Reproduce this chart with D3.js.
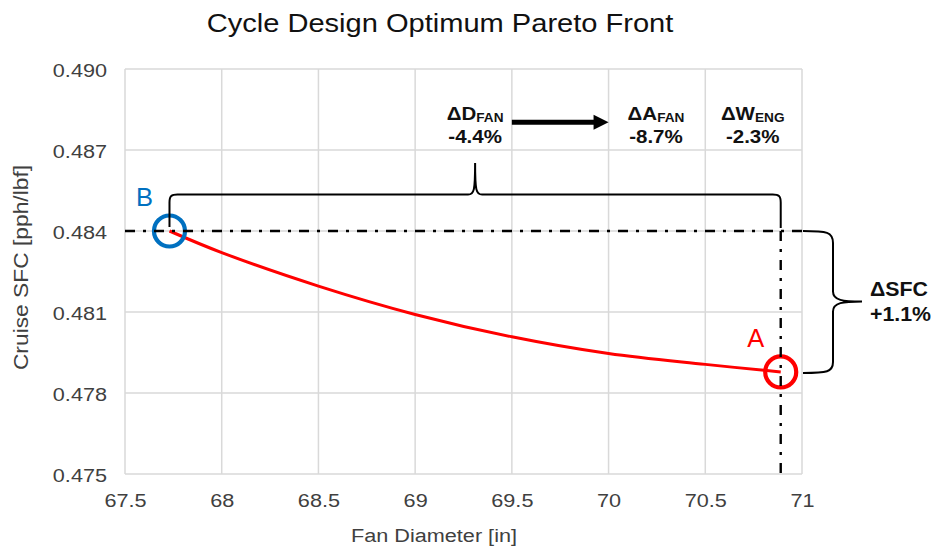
<!DOCTYPE html>
<html>
<head>
<meta charset="utf-8">
<script src="https://cdn.jsdelivr.net/npm/d3@7"></script>
<style>
  body { margin: 0; background: #fff; }
  svg { display: block; font-family: "Liberation Sans", Arial, sans-serif; }
</style>
</head>
<body>
<svg id="chart"></svg>
<script>
// pareto front (fan diameter vs cruise SFC)
var fanDiameter = [67.73, 68.0, 68.5, 69.0, 69.5, 70.0, 70.5, 70.89];
var cruiseSfc = [0.4840, 0.4832, 0.48196, 0.48091, 0.48008, 0.47946, 0.47906, 0.47878];

// end points of the front
var pointNames = ["B", "A"];
var pointX = [67.73, 70.89];
var pointY = [0.4840, 0.47878];
var pointColors = ["#0070c0", "#ff0000"];

// axis ticks
var xTicks = [67.5, 68, 68.5, 69, 69.5, 70, 70.5, 71];
var xTickLabels = ["67.5", "68", "68.5", "69", "69.5", "70", "70.5", "71"];
var yTicks = [0.475, 0.478, 0.481, 0.484, 0.487, 0.490];
var yTickLabels = ["0.475", "0.478", "0.481", "0.484", "0.487", "0.490"];

// delta annotations along the top
var deltaNames = ["\u0394D", "\u0394A", "\u0394W"];
var deltaSubs = ["FAN", "FAN", "ENG"];
var deltaValues = ["-4.4%", "-8.7%", "-2.3%"];
var deltaX = [69.31, 70.245, 70.745];
var sfcDelta = ["\u0394SFC", "+1.1%"];

var width = 931, height = 548;
var sx = 1.14; // text in the original is a bit wider than arial
var dashDot = "10,8,3,8";

var svg = d3.select("#chart").attr("width", width).attr("height", height);

var x = d3.scaleLinear().domain([67.5, 71]).range([125, 802]);
var y = d3.scaleLinear().domain([0.475, 0.490]).range([474, 69]);

// grid
svg.append("g").selectAll("line").data(xTicks).join("line")
    .attr("x1", d => x(d)).attr("x2", d => x(d))
    .attr("y1", y(0.490)).attr("y2", y(0.475))
    .attr("stroke", "#d9d9d9").attr("stroke-width", 1.5);
svg.append("g").selectAll("line").data(yTicks).join("line")
    .attr("x1", x(67.5)).attr("x2", x(71))
    .attr("y1", d => y(d)).attr("y2", d => y(d))
    .attr("stroke", "#d9d9d9").attr("stroke-width", 1.5);

// axes (labels only, lines are the grid)
var yAxis = svg.append("g")
    .attr("transform", "translate(" + x(67.5) + ",0)")
    .call(d3.axisLeft(y).tickValues(yTicks).tickSize(0).tickFormat((d, i) => yTickLabels[i]));
yAxis.select(".domain").remove();
yAxis.selectAll("text")
    .attr("x", null).attr("dy", null)
    .attr("transform", "translate(-18,7) scale(" + sx + ",1)")
    .attr("font-size", 19).attr("fill", "#404040").attr("font-family", null);

var xAxis = svg.append("g")
    .attr("transform", "translate(0," + y(0.475) + ")")
    .call(d3.axisBottom(x).tickValues(xTicks).tickSize(0).tickFormat((d, i) => xTickLabels[i]));
xAxis.select(".domain").remove();
xAxis.selectAll("text")
    .attr("y", null).attr("dy", null)
    .attr("transform", "translate(0,32.7) scale(" + sx + ",1)")
    .attr("font-size", 19).attr("fill", "#404040").attr("font-family", null);

// titles
svg.append("text")
    .attr("transform", "translate(440,31.7) scale(" + sx + ",1)")
    .attr("text-anchor", "middle").attr("font-size", 25.5).attr("fill", "#111")
    .text("Cycle Design Optimum Pareto Front");
svg.append("text")
    .attr("transform", "translate(434,541.7) scale(" + sx + ",1)")
    .attr("text-anchor", "middle").attr("font-size", 19).attr("fill", "#404040")
    .text("Fan Diameter [in]");
svg.append("text")
    .attr("transform", "translate(28,267.5) rotate(-90) scale(" + sx + ",1)")
    .attr("text-anchor", "middle").attr("font-size", 20).attr("fill", "#404040")
    .text("Cruise SFC [pph/lbf]");

// the front
var line = d3.line()
    .x(function(d, i) { return x(fanDiameter[i]); })
    .y(function(d, i) { return y(cruiseSfc[i]); })
    .curve(d3.curveCatmullRom);
svg.append("path")
    .datum(fanDiameter)
    .attr("d", line)
    .attr("fill", "none").attr("stroke", "#ff0000").attr("stroke-width", 3);

// circles at A and B
svg.append("g").selectAll("circle").data(pointNames).join("circle")
    .attr("cx", (d, i) => x(pointX[i])).attr("cy", (d, i) => y(pointY[i]))
    .attr("r", 15.5)
    .attr("fill", "none").attr("stroke", (d, i) => pointColors[i]).attr("stroke-width", 4.2);
svg.append("g").selectAll("text").data(pointNames).join("text")
    .attr("x", (d, i) => x(pointX[i]) - 25).attr("y", (d, i) => y(pointY[i]) - 25)
    .attr("text-anchor", "middle").attr("font-size", 25.5)
    .attr("fill", (d, i) => pointColors[i])
    .text(d => d);

// dash-dot reference lines
var bx = x(pointX[0]), by = y(pointY[0]);
var ax = x(pointX[1]), ay = y(pointY[1]);
svg.append("line")
    .attr("x1", x(67.5)).attr("x2", x(71) + 1).attr("y1", by).attr("y2", by)
    .attr("stroke", "#000").attr("stroke-width", 2.4).attr("stroke-dasharray", dashDot);
svg.append("line")
    .attr("x1", ax).attr("x2", ax).attr("y1", by).attr("y2", y(0.475))
    .attr("stroke", "#000").attr("stroke-width", 2.4).attr("stroke-dasharray", dashDot);

// top brace between B and A
var braceY = y(0.48535), tipY = y(0.48652), tipX = x(deltaX[0]);
var topBrace = d3.path();
topBrace.moveTo(bx, by - 4);
topBrace.lineTo(bx, braceY + 8);
topBrace.bezierCurveTo(bx, braceY + 1, bx + 2, braceY, bx + 8, braceY);
topBrace.lineTo(tipX - 7, braceY);
topBrace.bezierCurveTo(tipX - 1, braceY, tipX, braceY - 4, tipX, tipY);
topBrace.bezierCurveTo(tipX, braceY - 4, tipX + 1, braceY, tipX + 7, braceY);
topBrace.lineTo(ax - 8, braceY);
topBrace.bezierCurveTo(ax - 2, braceY, ax, braceY + 1, ax, braceY + 8);
topBrace.lineTo(ax, by - 3);
svg.append("path").attr("d", topBrace.toString())
    .attr("fill", "none").attr("stroke", "#000").attr("stroke-width", 2);

// right brace for the SFC change
var rx0 = x(71) + 1, rx1 = rx0 + 30, rtip = rx0 + 59, rmid = (by + ay) / 2;
var rightBrace = d3.path();
rightBrace.moveTo(rx0, by);
rightBrace.bezierCurveTo(rx0 + 24, by, rx1, by + 1, rx1, by + 12);
rightBrace.lineTo(rx1, rmid - 10);
rightBrace.bezierCurveTo(rx1, rmid - 1, rx1 + 10, rmid, rtip, rmid);
rightBrace.bezierCurveTo(rx1 + 10, rmid, rx1, rmid + 1, rx1, rmid + 10);
rightBrace.lineTo(rx1, ay - 10);
rightBrace.bezierCurveTo(rx1, ay, rx1 - 6, ay + 1, rx0, ay + 1);
svg.append("path").attr("d", rightBrace.toString())
    .attr("fill", "none").attr("stroke", "#000").attr("stroke-width", 2);

svg.append("g").selectAll("text").data(sfcDelta).join("text")
    .attr("transform", (d, i) => "translate(870," + (rmid - 5 + i * 25) + ") scale(1.04,1)")
    .attr("font-size", 20.5).attr("font-weight", "bold").attr("fill", "#111")
    .text(d => d);

// delta labels along the top
var dl = svg.append("g").selectAll("g").data(deltaNames).join("g")
    .attr("transform", (d, i) => "translate(" + x(deltaX[i]) + ",0) scale(1.08,1)");
var head = dl.append("text")
    .attr("y", 120).attr("text-anchor", "middle")
    .attr("font-size", 19).attr("font-weight", "bold").attr("fill", "#111");
head.append("tspan").text(d => d);
head.append("tspan").attr("font-size", 12.6).attr("dy", 2).text((d, i) => deltaSubs[i]);
dl.append("text")
    .attr("y", 143.3).attr("text-anchor", "middle")
    .attr("font-size", 19).attr("font-weight", "bold").attr("fill", "#111")
    .text((d, i) => deltaValues[i]);

// arrow from D to A
var ay0 = y(0.48803), axs = x(69.5), axe = x(70.0);
svg.append("line")
    .attr("x1", axs).attr("x2", axe - 13).attr("y1", ay0).attr("y2", ay0)
    .attr("stroke", "#000").attr("stroke-width", 5);
svg.append("path")
    .attr("d", "M" + (axe - 15) + "," + (ay0 - 7.5) + "L" + axe + "," + ay0 + "L" + (axe - 15) + "," + (ay0 + 7.5) + "Z")
    .attr("fill", "#000");
</script>
</body>
</html>
